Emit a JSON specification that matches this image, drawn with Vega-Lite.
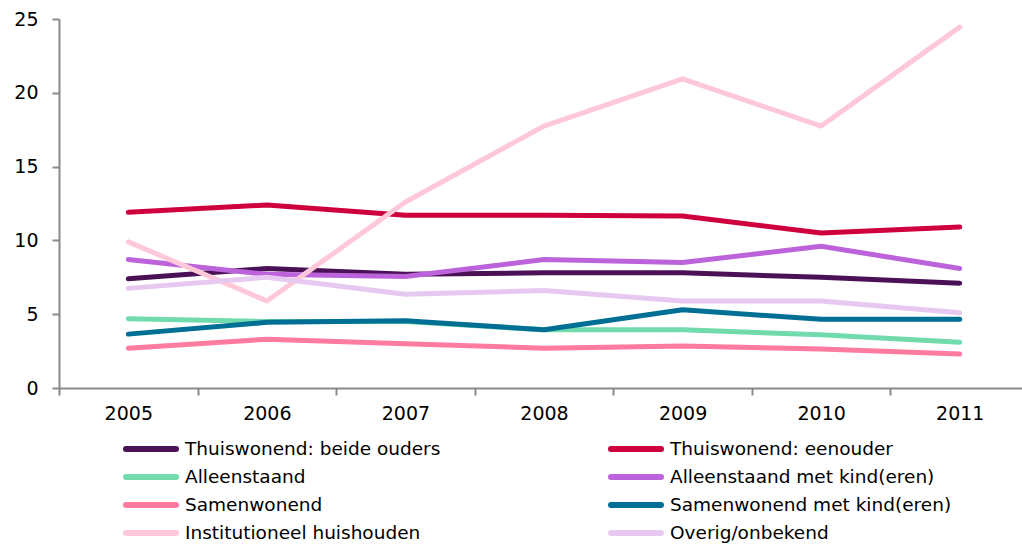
{
  "$schema": "https://vega.github.io/schema/vega-lite/v6.json",
  "width": 970,
  "height": 369,
  "padding": {"left": 13, "top": 10, "right": 0, "bottom": 0},
  "config": {"view": {"stroke": null}, "font": "DejaVu Sans"},
  "data": {"values": [
    {"jaar": "2005", "type": "Thuiswonend: beide ouders", "waarde": 7.4},
    {"jaar": "2006", "type": "Thuiswonend: beide ouders", "waarde": 8.1},
    {"jaar": "2007", "type": "Thuiswonend: beide ouders", "waarde": 7.7},
    {"jaar": "2008", "type": "Thuiswonend: beide ouders", "waarde": 7.8},
    {"jaar": "2009", "type": "Thuiswonend: beide ouders", "waarde": 7.8},
    {"jaar": "2010", "type": "Thuiswonend: beide ouders", "waarde": 7.5},
    {"jaar": "2011", "type": "Thuiswonend: beide ouders", "waarde": 7.1},
    {"jaar": "2005", "type": "Thuiswonend: eenouder", "waarde": 11.9},
    {"jaar": "2006", "type": "Thuiswonend: eenouder", "waarde": 12.4},
    {"jaar": "2007", "type": "Thuiswonend: eenouder", "waarde": 11.7},
    {"jaar": "2008", "type": "Thuiswonend: eenouder", "waarde": 11.7},
    {"jaar": "2009", "type": "Thuiswonend: eenouder", "waarde": 11.65},
    {"jaar": "2010", "type": "Thuiswonend: eenouder", "waarde": 10.5},
    {"jaar": "2011", "type": "Thuiswonend: eenouder", "waarde": 10.9},
    {"jaar": "2005", "type": "Alleenstaand", "waarde": 4.7},
    {"jaar": "2006", "type": "Alleenstaand", "waarde": 4.5},
    {"jaar": "2007", "type": "Alleenstaand", "waarde": 4.5},
    {"jaar": "2008", "type": "Alleenstaand", "waarde": 3.95},
    {"jaar": "2009", "type": "Alleenstaand", "waarde": 3.95},
    {"jaar": "2010", "type": "Alleenstaand", "waarde": 3.6},
    {"jaar": "2011", "type": "Alleenstaand", "waarde": 3.1},
    {"jaar": "2005", "type": "Alleenstaand met kind(eren)", "waarde": 8.7},
    {"jaar": "2006", "type": "Alleenstaand met kind(eren)", "waarde": 7.7},
    {"jaar": "2007", "type": "Alleenstaand met kind(eren)", "waarde": 7.55},
    {"jaar": "2008", "type": "Alleenstaand met kind(eren)", "waarde": 8.7},
    {"jaar": "2009", "type": "Alleenstaand met kind(eren)", "waarde": 8.5},
    {"jaar": "2010", "type": "Alleenstaand met kind(eren)", "waarde": 9.6},
    {"jaar": "2011", "type": "Alleenstaand met kind(eren)", "waarde": 8.1},
    {"jaar": "2005", "type": "Samenwonend", "waarde": 2.7},
    {"jaar": "2006", "type": "Samenwonend", "waarde": 3.3},
    {"jaar": "2007", "type": "Samenwonend", "waarde": 3.0},
    {"jaar": "2008", "type": "Samenwonend", "waarde": 2.7},
    {"jaar": "2009", "type": "Samenwonend", "waarde": 2.85},
    {"jaar": "2010", "type": "Samenwonend", "waarde": 2.65},
    {"jaar": "2011", "type": "Samenwonend", "waarde": 2.3},
    {"jaar": "2005", "type": "Samenwonend met kind(eren)", "waarde": 3.65},
    {"jaar": "2006", "type": "Samenwonend met kind(eren)", "waarde": 4.45},
    {"jaar": "2007", "type": "Samenwonend met kind(eren)", "waarde": 4.55},
    {"jaar": "2008", "type": "Samenwonend met kind(eren)", "waarde": 3.95},
    {"jaar": "2009", "type": "Samenwonend met kind(eren)", "waarde": 5.3},
    {"jaar": "2010", "type": "Samenwonend met kind(eren)", "waarde": 4.65},
    {"jaar": "2011", "type": "Samenwonend met kind(eren)", "waarde": 4.65},
    {"jaar": "2005", "type": "Institutioneel huishouden", "waarde": 9.9},
    {"jaar": "2006", "type": "Institutioneel huishouden", "waarde": 5.9},
    {"jaar": "2007", "type": "Institutioneel huishouden", "waarde": 12.6},
    {"jaar": "2008", "type": "Institutioneel huishouden", "waarde": 17.75},
    {"jaar": "2009", "type": "Institutioneel huishouden", "waarde": 20.95},
    {"jaar": "2010", "type": "Institutioneel huishouden", "waarde": 17.75},
    {"jaar": "2011", "type": "Institutioneel huishouden", "waarde": 24.45},
    {"jaar": "2005", "type": "Overig/onbekend", "waarde": 6.75},
    {"jaar": "2006", "type": "Overig/onbekend", "waarde": 7.5},
    {"jaar": "2007", "type": "Overig/onbekend", "waarde": 6.35},
    {"jaar": "2008", "type": "Overig/onbekend", "waarde": 6.6},
    {"jaar": "2009", "type": "Overig/onbekend", "waarde": 5.9},
    {"jaar": "2010", "type": "Overig/onbekend", "waarde": 5.9},
    {"jaar": "2011", "type": "Overig/onbekend", "waarde": 5.1}
  ]},
  "mark": {"type": "line", "strokeWidth": 5, "strokeCap": "round", "strokeJoin": "round"},
  "encoding": {
    "x": {
      "field": "jaar", "type": "ordinal",
      "scale": {"paddingInner": 0, "paddingOuter": 0},
      "axis": {
        "title": null, "labelAngle": 0, "tickBand": "extent",
        "domainColor": "#898989", "tickColor": "#898989", "domainWidth": 2, "tickWidth": 2,
        "tickSize": 7, "labelFontSize": 19, "labelColor": "#000", "labelPadding": 9
      }
    },
    "y": {
      "field": "waarde", "type": "quantitative",
      "scale": {"domain": [0, 25], "nice": false},
      "axis": {
        "title": null, "grid": false, "values": [0, 5, 10, 15, 20, 25],
        "domainColor": "#898989", "tickColor": "#898989", "domainWidth": 2, "tickWidth": 2,
        "tickSize": 7, "labelFontSize": 19, "labelColor": "#000", "labelPadding": 14
      }
    },
    "color": {
      "field": "type", "type": "nominal",
      "scale": {
        "domain": ["Thuiswonend: beide ouders", "Alleenstaand", "Samenwonend", "Institutioneel huishouden", "Thuiswonend: eenouder", "Alleenstaand met kind(eren)", "Samenwonend met kind(eren)", "Overig/onbekend"],
        "range": ["#4A1156", "#71DBAE", "#FF7BA0", "#FFC8D8", "#CE003D", "#BC63DB", "#006F94", "#E6C8F0"]
      },
      "legend": {
        "orient": "none", "legendX": 79, "legendY": 417, "title": null,
        "columns": 2, "symbolType": "M-2.5,0H2.5", "symbolSize": 400, "symbolStrokeWidth": 6,
        "labelFontSize": 18.5, "labelColor": "#000", "labelOffset": 21, "labelLimit": 400,
        "rowPadding": 3, "columnPadding": 158,
        "encode": {"symbols": {"update": {"strokeCap": {"value": "round"}}}}
      }
    }
  }
}
